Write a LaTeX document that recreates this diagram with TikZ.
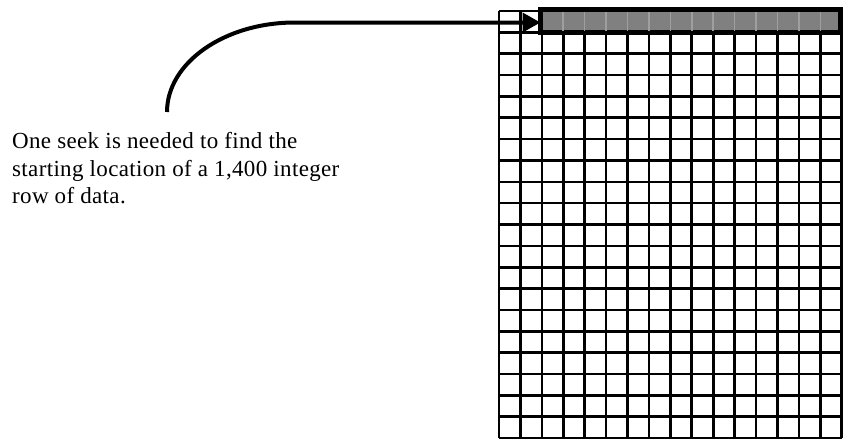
\documentclass[tikz,border=0pt]{standalone}
\usepackage{fontspec}
\setmainfont{Liberation Serif}[LetterSpace=1.5]
\usetikzlibrary{arrows.meta}
\begin{document}
\begin{tikzpicture}[x=1pt,y=-1pt,
  gridline/.style={line width=2.6pt,black},
  rowbox/.style={draw=black,line width=4.8pt,fill=gray,inner sep=0pt,outer sep=0pt,
     minimum width=300pt,minimum height=23pt},
  rowsep/.style={line width=1.6pt,draw=gray!75},
  seekarrow/.style={line width=4pt,-{Triangle[length=18pt,width=19pt]}},
  notetext/.style={anchor=north west,align=left,inner sep=0pt,
     font=\fontsize{23}{27.5}\selectfont}]
\useasboundingbox (0,0) rectangle (845,440);
\fill[white] (0,0) rectangle (845,440);
% grid 16 x 20
\def\gx{499}\def\gy{11}\def\cw{21.42}\def\ch{21.35}
\foreach \i in {0,...,16}
  \draw[gridline] (\gx+\i*\cw,\gy) -- (\gx+\i*\cw,\gy+20*\ch);
\foreach \j in {0,...,20}
  \draw[gridline] (\gx,\gy+\j*\ch) -- (\gx+16*\cw,\gy+\j*\ch);
% highlighted row
\node[rowbox] (row) at (690.5,21) {};
\foreach \i in {3,...,15}
  \draw[rowsep] (\gx+\i*\cw,12) -- (\gx+\i*\cw,30.5);
% text
\node[notetext] (note) at (12,132.5) {One seek is needed to find the\\starting location of a 1,400 integer\\row of data.};
% connector
\coordinate (start) at (167,112);
\coordinate (bend) at (295,22.5);
\draw[seekarrow] (start) .. controls (167,63) and (224,22.5) .. (bend) -- (row.west |- bend);
\end{tikzpicture}
\end{document}
